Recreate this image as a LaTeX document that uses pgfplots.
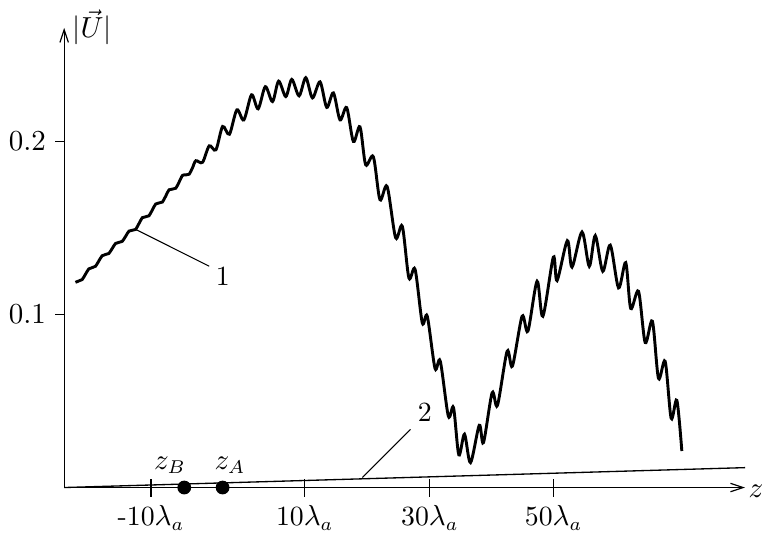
\documentclass[border=0pt]{standalone}
\usepackage{pgfplots}
\pgfplotsset{compat=1.18}
\usetikzlibrary{arrows.meta}
\begin{document}
\begin{tikzpicture}
\begin{axis}[
  x=0.3774pt, y=654pt,
  xmin=63, xmax=745, ymin=0, ymax=0.2657,
  axis lines=left,
  axis line style={line width=0.45pt, -{Straight Barb[length=4.8pt,width=3.2pt]}},
  clip=false,
  xtick={150,304,429.3,553.3},
  xticklabels={-10$\lambda_a$, 10$\lambda_a$, 30$\lambda_a$, 50$\lambda_a$},
  xtick align=center,
  major tick length=6.8pt,
  ytick=\empty,
  extra y ticks={0.1,0.2},
  extra y tick style={ytick align=outside, major tick length=3.4pt},
  tick style={black, line width=0.45pt},
  ticklabel style={font=\fontsize{10.5}{12}\selectfont},
]
% bounding box matching the reference frame
\path (axis cs:0,-0.0298) rectangle (axis cs:762,0.2818);

% curve 1
\addplot[black, line width=1.1pt, smooth, tension=0.5] coordinates {
(74.3,0.1186) (77.65,0.1194) (81.0,0.1202) (84.35,0.1233) (87.7,0.1264)
(91.05,0.1271) (94.4,0.1279) (97.75,0.1310) (101.1,0.1340) (104.45,0.1347)
(107.8,0.1353) (111.15,0.1382) (114.5,0.1411) (117.85,0.1417) (121.2,0.1423)
(124.55,0.1452) (127.9,0.1482) (131.25,0.1487) (134.6,0.1492) (137.95,0.1526)
(141.3,0.1560) (144.65,0.1565) (148.0,0.1571) (151.35,0.1605) (154.7,0.1639)
(158.05,0.1645) (161.4,0.1650) (164.75,0.1685) (168.1,0.1721) (171.45,0.1725)
(174.8,0.1730) (178.15,0.1766) (181.5,0.1804) (184.85,0.1807) (188.2,0.1811)
(191.55,0.1848)
(194.9,0.1889) (201.6,0.1880) (208.3,0.1975) (215.0,0.1952) (221.7,0.2087)
(228.5,0.2042) (236.0,0.2183) (243.0,0.2125) (250.7,0.2270) (257.3,0.2189)
(264.5,0.2317) (271.7,0.2231) (277.8,0.2349) (285.0,0.2260) (291.0,0.2359)
(298.3,0.2264) (305.0,0.2369) (311.7,0.2252) (319.3,0.2345) (326.0,0.2197)
(332.7,0.2281) (339.3,0.2125) (346.0,0.2196) (352.7,0.2000) (359.3,0.2085)
(365.0,0.1866) (372.7,0.1912) (379.3,0.1664) (386.5,0.1740) (395.0,0.1444)
(401.7,0.1510) (408.3,0.1212) (414.5,0.1261) (421.7,0.0952) (426.7,0.0990)
(434.5,0.0688) (439.7,0.0731) (447.8,0.0413) (453.0,0.0462) (458.3,0.0189)
(464.0,0.0308) (470.0,0.0144) (478.8,0.0360) (483.0,0.0260) (491.7,0.0548)
(497.0,0.0475) (506.7,0.0788) (512.0,0.0702) (521.7,0.0990) (527.5,0.0904)
(536.7,0.1192) (542.5,0.0990) (553.0,0.1332) (556.7,0.1196) (567.0,0.1427)
(571.7,0.1274) (581.7,0.1477) (589.0,0.1279) (595.0,0.1456) (602.5,0.1250)
(610.0,0.1401) (618.3,0.1154) (625.5,0.1300) (630.5,0.1035) (638.3,0.1134)
(645.0,0.0838) (652.2,0.0961) (658.3,0.0631) (665.0,0.0729) (671.0,0.0400)
(676.7,0.0504) (681.7,0.0211)
};

% curve 2
\addplot[black, line width=0.5pt] coordinates {(63,0) (745,0.0115)};

% points z_B, z_A
\addplot[only marks, mark=*, mark size=2.4pt, black] coordinates {(183.3,0) (221.7,0)};

% leaders and labels
\draw[line width=0.4pt] (axis cs:135,0.1491) -- (axis cs:208.3,0.1279);
\draw[line width=0.4pt] (axis cs:361.7,0.0058) -- (axis cs:410,0.0336);
\node[anchor=base, font=\fontsize{10.5}{12}\selectfont] at (axis cs:222,0.1167) {1};
\node[anchor=base, font=\fontsize{10.5}{12}\selectfont] at (axis cs:424.2,0.0384) {2};
\node[anchor=base, font=\fontsize{10.5}{12}\selectfont] at (axis cs:169,0.0106) {$z_B$};
\node[anchor=base, font=\fontsize{10.5}{12}\selectfont] at (axis cs:229,0.0106) {$z_A$};
\node[anchor=base west, inner sep=0pt, font=\fontsize{10.5}{12}\selectfont] at (axis cs:71,0.2600) {$|\vec{U}|$};
\node[anchor=base west, inner sep=0pt, overlay, font=\fontsize{10.5}{12}\selectfont] at (axis cs:748,-0.0056) {$z$};
\end{axis}
\end{tikzpicture}
\end{document}
